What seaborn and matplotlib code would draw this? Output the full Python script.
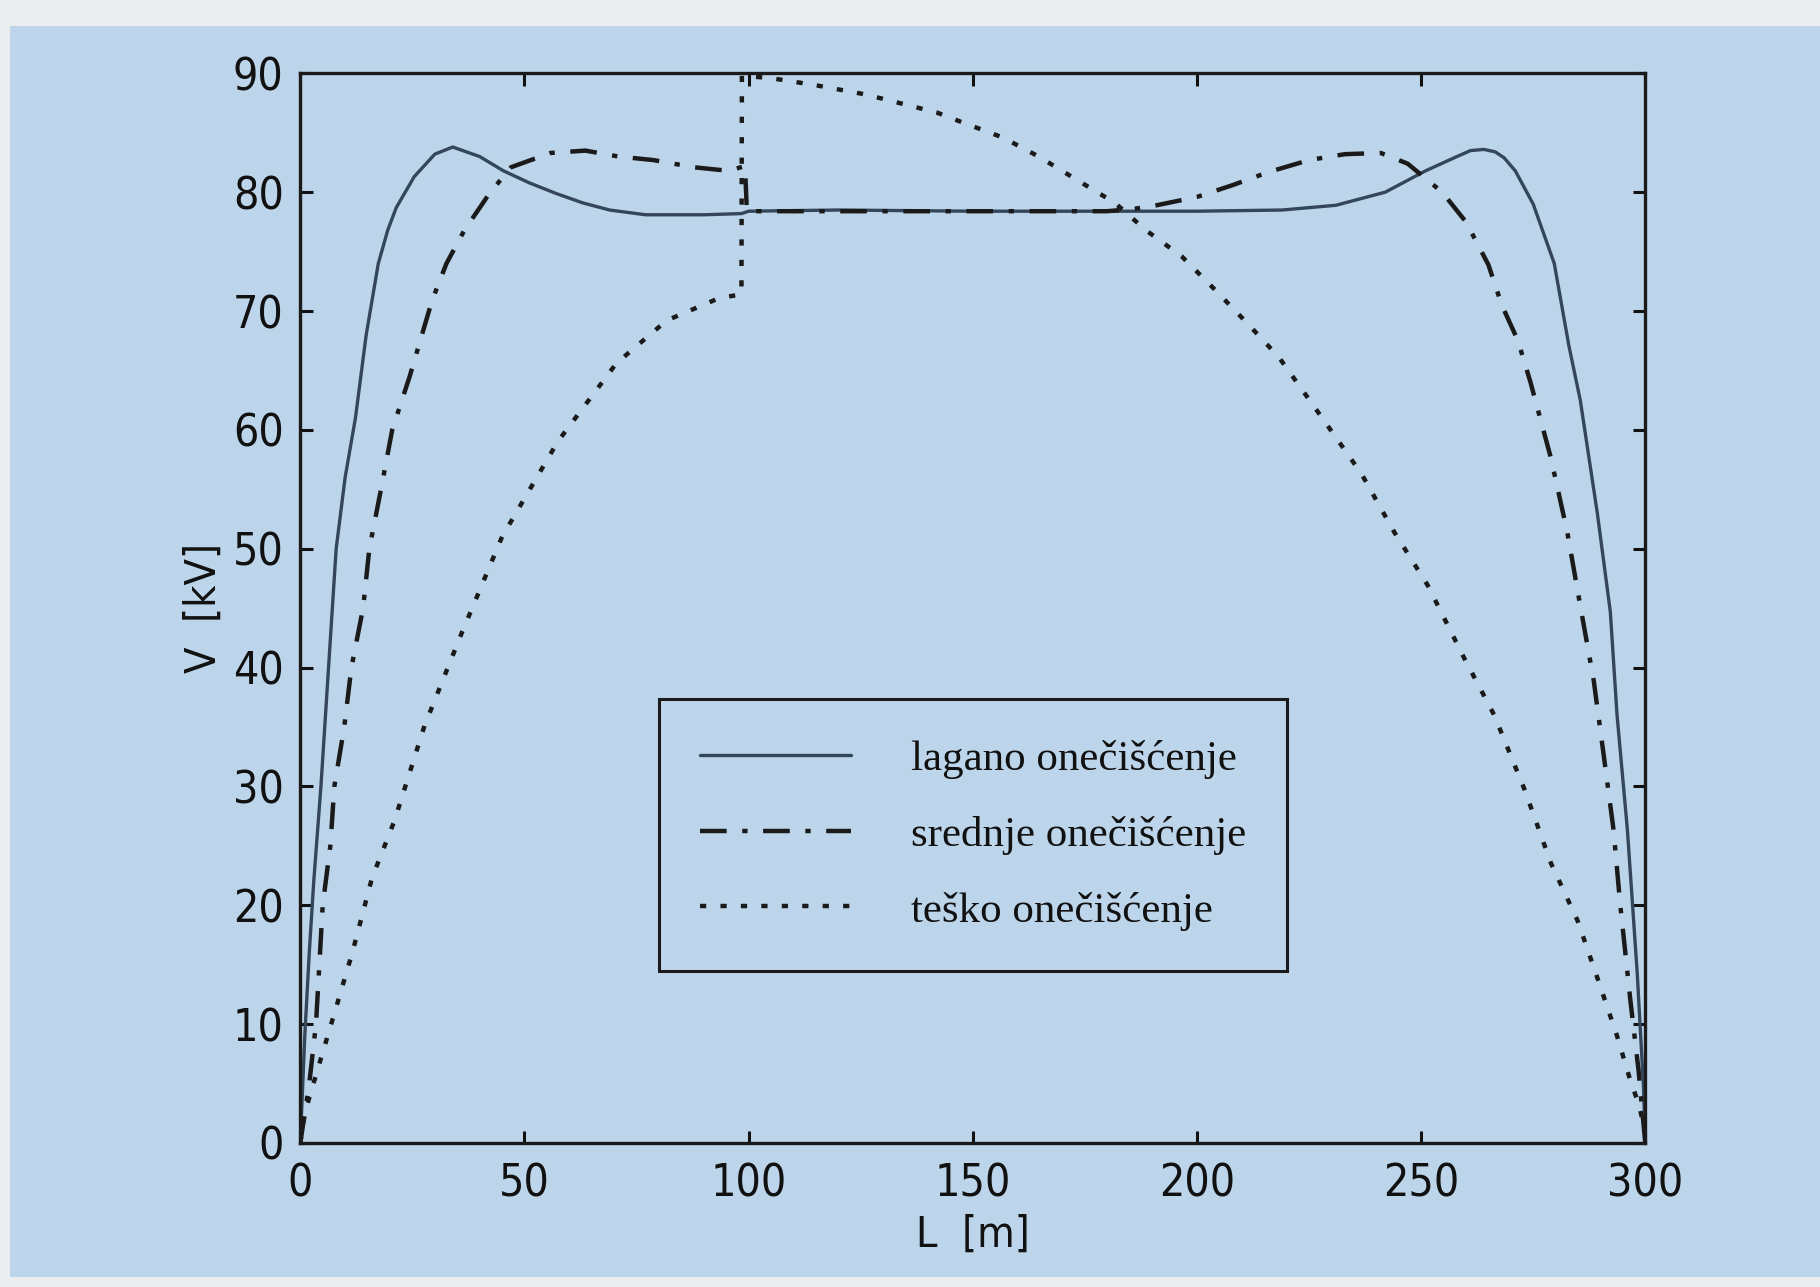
import matplotlib
matplotlib.use("Agg")
import matplotlib.pyplot as plt
import seaborn as sns
from matplotlib import font_manager
from matplotlib.patches import Rectangle

# duljina L [m] i napon V [kV] za tri razine oneciscenja
L_lagano = [0, 1, 2, 3, 4.6, 6.3, 8, 10, 12.3, 14.7, 17.4, 19.5, 21.4, 25.4, 30, 34,
            40, 45.3, 51, 57, 63, 69, 77, 90, 98.4, 100, 120, 150, 200, 219, 231,
            242, 251, 258, 261, 264, 266.5, 268.5, 271, 275, 279.7, 283, 285.5, 289.3,
            292.2, 293.7, 296, 298.2, 299.6, 300]
V_lagano = [0, 9, 16, 22, 30, 40, 50, 56, 61, 68, 74, 76.8, 78.7, 81.3, 83.2, 83.8,
            83, 81.8, 80.8, 79.9, 79.1, 78.5, 78.1, 78.1, 78.2, 78.4, 78.5, 78.4,
            78.4, 78.5, 78.9, 80, 81.8, 83.0, 83.5, 83.6, 83.4, 82.9, 81.8, 79, 74, 67,
            62.5, 53, 44.7, 36, 26.4, 14.3, 4.7, 0]

L_srednje = [0, 2, 3.5, 5, 6.7, 7.6, 9.8, 11.4, 14, 15.4, 18, 20.5, 24.4, 29.4, 32.6,
             36.6, 42.2, 47, 55.8, 63.6, 71, 78.8, 87.7, 95.5, 99.2, 99.6, 120, 180,
             186, 191, 200, 208, 216, 225, 233, 241, 247, 254.7, 260, 265, 268,
             271.6, 274.4, 278.9, 282.6, 285.5, 288.5, 290.7, 292.9, 294.4, 296.7,
             298.5, 300]
V_srednje = [0, 5, 10, 20, 25, 30, 35, 40, 45, 50, 55, 60, 64.5, 70.9, 74, 76.8, 79.9,
             82.1, 83.3, 83.5, 83, 82.7, 82.1, 81.8, 82.2, 78.4, 78.4, 78.4, 78.6,
             78.9, 79.6, 80.6, 81.7, 82.7, 83.2, 83.3, 82.4, 80, 77.5, 73.9, 70.5,
             67.5, 64, 57.7, 51.4, 45.2, 38.9, 32.7, 26.4, 20.1, 11.9, 6.1, 0]

L_tesko = [0, 1, 2.7, 8, 11.6, 16, 21, 27.7, 36, 45, 57.4, 70.5, 81.7, 93.5, 98.4,
           98.5, 105, 115, 125, 129.5, 142, 147.5, 156.7, 164.7, 172.5, 181.7, 188.6,
           196.6, 204, 211.4, 218.3, 227, 236.7, 244, 251.5, 259.6, 266.3, 273, 279,
           284.9, 289.3, 293.7, 296.7, 298.5, 300]
V_tesko = [0, 2.5, 4.7, 11.4, 16, 22.3, 27.1, 35.1, 42.9, 51, 59, 65.6, 69.2, 71.1,
           71.4, 89.8, 89.6, 89.0, 88.3, 87.9, 86.7, 85.9, 84.6, 83, 81.2, 79.1, 76.8,
           74.6, 71.8, 68.9, 66.1, 61.5, 56.3, 51.4, 46.9, 40.8, 36, 29.8, 23.5, 18.7,
           13.9, 9, 5.2, 3.3, 1]

labels = ["lagano onečišćenje", "srednje onečišćenje", "teško onečišćenje"]
x_ticks = [0, 50, 100, 150, 200, 250, 300]
y_ticks = [0, 10, 20, 30, 40, 50, 60, 70, 80, 90]

sns.set_theme(style="ticks")
installed = {f.name for f in font_manager.fontManager.ttflist}
if "Liberation Sans Narrow" in installed:
    plt.rcParams["font.family"] = ["Liberation Sans Narrow", "DejaVu Sans"]
else:
    plt.rcParams["font.family"] = ["DejaVu Sans"]
    plt.rcParams["font.stretch"] = "condensed"

blue = "#bdd5ea"
fig = plt.figure(figsize=(18.2, 12.87), dpi=100)
fig.patch.set_facecolor("#ebedef")
bg = Rectangle((0.0055, 0.008), 0.9945, 0.972, transform=fig.transFigure,
               facecolor=blue, edgecolor="none", zorder=-10)
fig.add_artist(bg)

ax = fig.add_axes([0.165, 0.112, 0.739, 0.831])
ax.set_facecolor(blue)

sns.lineplot(x=L_lagano, y=V_lagano, ax=ax, color="#34475a", lw=2.4,
             sort=False, estimator=None, label=labels[0])
sns.lineplot(x=L_srednje, y=V_srednje, ax=ax, color="#1a1a1a", lw=3.2,
             sort=False, estimator=None, label=labels[1])
sns.lineplot(x=L_tesko, y=V_tesko, ax=ax, color="#1a1a1a", lw=3.2,
             sort=False, estimator=None, label=labels[2])
ax.lines[1].set_dashes((6, 3.5, 1.2, 3.5))
ax.lines[2].set_dashes((1.4, 3.2))

ax.set_xlim(0, 300)
ax.set_ylim(0, 90)
ax.set_xticks(x_ticks)
ax.set_yticks(y_ticks)
ax.tick_params(direction="in", top=True, right=True, length=9, width=2.2,
               colors="#111111", labelsize=32)
ax.tick_params(axis="x", pad=14)
ax.tick_params(axis="y", pad=12)
for s in ax.spines.values():
    s.set_linewidth(2.4)
    s.set_color("#1a1a1a")
    s.set_visible(True)

ax.set_xlabel("L  [m]", fontsize=31, labelpad=6, color="#111111")
ax.set_ylabel("V  [kV]", fontsize=31, labelpad=6, color="#111111")

leg = ax.legend(loc="upper left", bbox_to_anchor=(0.267, 0.415), frameon=True,
                fancybox=False, framealpha=1, facecolor=blue, edgecolor="#1a1a1a",
                handlelength=3.5, handletextpad=1.4, borderpad=0.95,
                labelspacing=0.85, borderaxespad=0,
                prop={"family": "Liberation Serif", "size": 31})
leg.get_frame().set_linewidth(2.2)
for t in leg.get_texts():
    t.set_color("#111111")

fig.savefig("out.png", dpi=100, facecolor=fig.get_facecolor())
